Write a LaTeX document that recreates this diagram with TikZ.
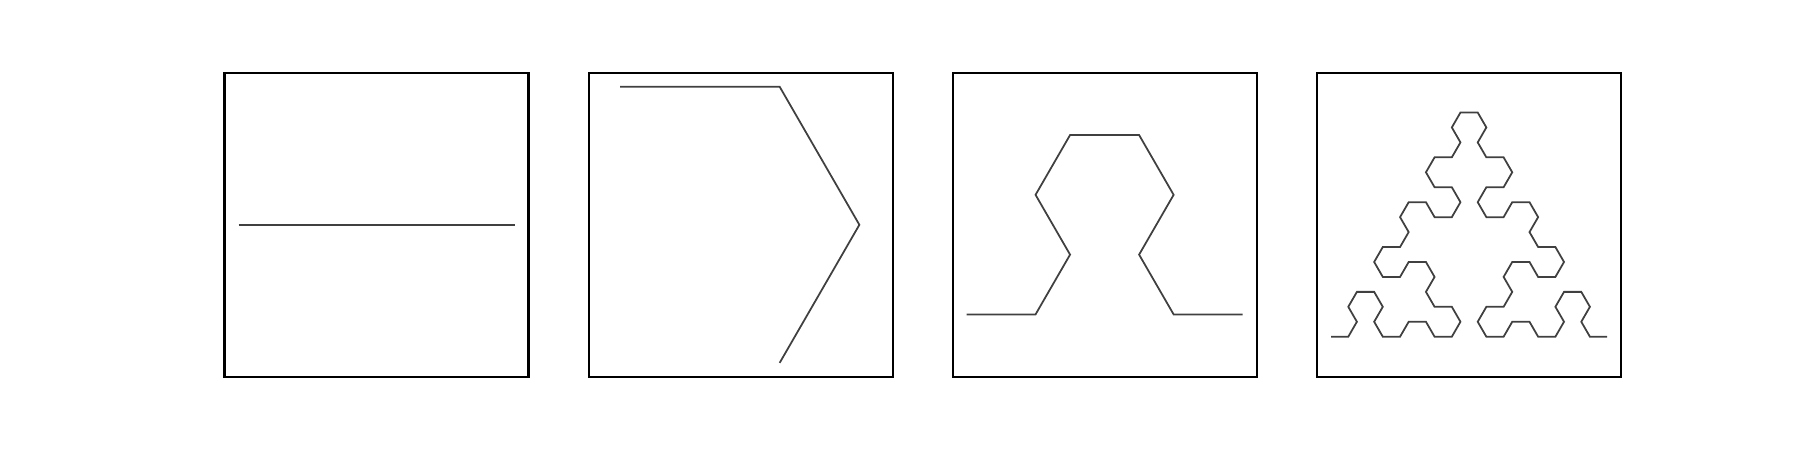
\documentclass[tikz,border=0pt]{standalone}
\usetikzlibrary{lindenmayersystems}
\pgfdeclarelindenmayersystem{arrowhead}{
  \symbol{A}{\pgflsystemdrawforward}
  \symbol{B}{\pgflsystemdrawforward}
  \rule{A -> B-A-B}
  \rule{B -> A+B+A}
}
\begin{document}
\begin{tikzpicture}[x=0.01cm,y=0.01cm,
    frame/.style={draw=black,line width=0.6pt},
    curve/.style={draw=black!75,line width=0.5pt,line join=miter}]
    \useasboundingbox (0,0) rectangle (1800,450);
    % frames
    \foreach \i in {0,1,2,3}
      \draw[frame] (224.5+364.25*\i,73.3) rectangle ++(304,304);
    % order 0
    \begin{scope}[shift={(238.5,225.3)}]
      \draw[curve,lindenmayer system={arrowhead, axiom=A, order=0, step=2.76cm, angle=60}] (0,0) lindenmayer system;
    \end{scope}
    % order 1
    \begin{scope}[shift={(620.2,363.3)}]
      \draw[curve,lindenmayer system={arrowhead, axiom=A, order=1, step=1.5935cm, angle=60}] (0,0) lindenmayer system;
    \end{scope}
    % order 2
    \begin{scope}[shift={(966.5,135.6)}]
      \draw[curve,lindenmayer system={arrowhead, axiom=A, order=2, step=0.69cm, angle=60}] (0,0) lindenmayer system;
    \end{scope}
    % order 4
    \begin{scope}[shift={(1331,113.3)}]
      \draw[curve,lindenmayer system={arrowhead, axiom=A, order=4, step=0.1725cm, angle=60}] (0,0) lindenmayer system;
    \end{scope}
\end{tikzpicture}
\end{document}
